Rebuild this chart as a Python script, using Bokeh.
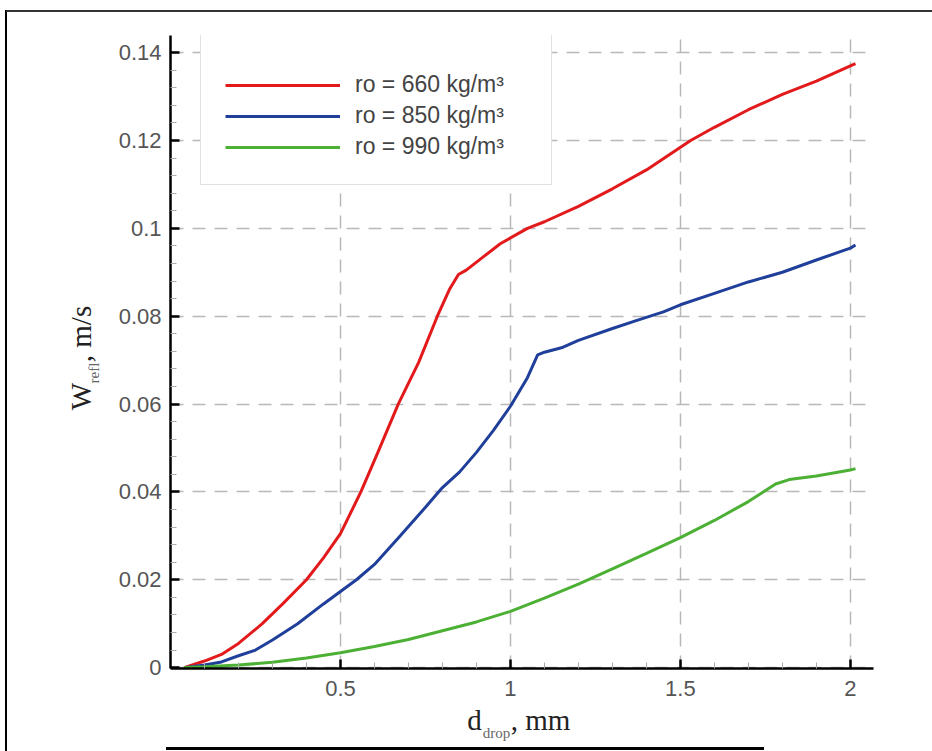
import math
from bokeh.plotting import figure
from bokeh.models import (FixedTicker, CustomJSTickFormatter, Legend, LegendItem,
                          LinearAxis, Range1d)
from bokeh.embed import file_html
from bokeh.resources import INLINE

# ---------------- data ----------------
d_660 = [0.04, 0.1, 0.15, 0.2, 0.27, 0.33, 0.40, 0.45, 0.5, 0.56, 0.61, 0.67, 0.73,
         0.785, 0.82, 0.847, 0.87, 0.92, 0.97, 1.05, 1.1, 1.2, 1.3, 1.4, 1.53, 1.6,
         1.7, 1.8, 1.9, 2.0, 2.015]
w_660 = [0.0, 0.0015, 0.003, 0.0055, 0.010, 0.0145, 0.020, 0.025, 0.0305, 0.040, 0.049,
         0.060, 0.0695, 0.080, 0.086, 0.0895, 0.0905, 0.0935, 0.0965, 0.100, 0.1015,
         0.105, 0.109, 0.1133, 0.120, 0.123, 0.127, 0.1305, 0.1335, 0.137, 0.1375]

d_850 = [0.04, 0.1, 0.15, 0.2, 0.25, 0.3, 0.374, 0.45, 0.547, 0.6, 0.676, 0.75, 0.8,
         0.85, 0.9, 0.95, 1.0, 1.05, 1.08, 1.1, 1.15, 1.2, 1.3, 1.37, 1.45, 1.5, 1.6,
         1.7, 1.8, 1.9, 2.0, 2.015]
w_850 = [0.0, 0.0006, 0.0013, 0.0027, 0.004, 0.0063, 0.010, 0.0145, 0.020, 0.0235,
         0.030, 0.0365, 0.041, 0.0445, 0.049, 0.054, 0.0595, 0.066, 0.0712, 0.0718,
         0.0728, 0.0745, 0.0772, 0.079, 0.081, 0.0826, 0.0852, 0.0878, 0.090, 0.0928,
         0.0955, 0.0962]

d_990 = [0.04, 0.1, 0.2, 0.3, 0.4, 0.5, 0.6, 0.7, 0.8, 0.9, 1.0, 1.1, 1.2, 1.3, 1.4,
         1.5, 1.6, 1.7, 1.78, 1.82, 1.9, 2.0, 2.015]
w_990 = [0.0, 0.0002, 0.0006, 0.0012, 0.0022, 0.0034, 0.0048, 0.0064, 0.0084, 0.0104,
         0.0128, 0.0158, 0.019, 0.0225, 0.026, 0.0296, 0.0335, 0.0378, 0.0418, 0.0428,
         0.0436, 0.045, 0.0453]

series_labels = ["ro = 660 kg/m\u00b3", "ro = 850 kg/m\u00b3", "ro = 990 kg/m\u00b3"]
series_colors = ["#e31a1c", "#1f3f9a", "#4cb035"]

x_major = [0.5, 1.0, 1.5, 2.0]
x_minor = [round(0.1 * i, 1) for i in range(1, 21) if i % 5 != 0]
y_major = [0.0, 0.02, 0.04, 0.06, 0.08, 0.10, 0.12, 0.14]
y_minor = [round(0.004 * i, 3) for i in range(1, 37) if i % 5 != 0]

x_title_main = ["d", ", mm"]
x_title_sub = ["drop"]
y_title_main = ["W", ", m/s"]
y_title_sub = ["refl"]

# ---------------- layout constants (canvas px) ----------------
W, H = 932, 751
L, R, T, B = 170, 873, 35, 668
X0, X1 = 0.0, 2.068
Y0, Y1 = -0.0002, 0.1439


def cx(px):
    return X0 + (px - L) * (X1 - X0) / (R - L)


def cy(py):
    return Y0 + (B - py) * (Y1 - Y0) / (B - T)


p = figure(width=W, height=H, output_backend="svg", toolbar_location=None,
           title=None, x_range=Range1d(X0, X1), y_range=Range1d(Y0, Y1),
           min_border_left=L, min_border_right=W - R, min_border_top=T,
           min_border_bottom=H - B)
p.outline_line_color = None
p.background_fill_color = "white"
p.border_fill_color = None
# page frame lines (left line positioned from the right edge of the page)
p.styles = {
    "background-color": "#ffffff",
    "background-image": ("linear-gradient(#333333,#333333), linear-gradient(#000000,#000000), "
                         "linear-gradient(#000000,#000000)"),
    "background-position": "6px 10px, right 925px top 10px, 166px 747px",
    "background-size": "926px 2px, 2px 741px, 598px 3px",
    "background-repeat": "no-repeat, no-repeat, no-repeat",
}

fmt = CustomJSTickFormatter(code="return Number(tick.toFixed(4)).toString();")

for ax, maj, mnr in ((p.xaxis[0], x_major, x_minor), (p.yaxis[0], y_major, y_minor)):
    ax.ticker = FixedTicker(ticks=maj, minor_ticks=mnr)
    ax.formatter = fmt
    ax.axis_line_color = "black"
    ax.axis_line_width = 2.5
    ax.major_tick_in = 9
    ax.major_tick_out = 0
    ax.major_tick_line_width = 2.5
    ax.major_tick_line_color = "black"
    ax.minor_tick_in = 6
    ax.minor_tick_out = 0
    ax.minor_tick_line_color = "#aaaaaa"
    ax.minor_tick_line_width = 1
    ax.major_label_text_font = "Liberation Sans"
    ax.major_label_text_font_size = "22px"
    ax.major_label_text_color = "#555555"
    ax.axis_label = None
p.yaxis[0].major_label_standoff = 9
p.xaxis[0].major_label_standoff = 12

p.xgrid[0].ticker = FixedTicker(ticks=x_major)
p.ygrid[0].ticker = FixedTicker(ticks=y_major)
for g in (p.xgrid[0], p.ygrid[0]):
    g.grid_line_color = "#b8b8b8"
    g.grid_line_width = 1.5
    g.grid_line_dash = "13 9"

renderers = []
for xs, ys, col in ((d_660, w_660, series_colors[0]), (d_850, w_850, series_colors[1]),
                    (d_990, w_990, series_colors[2])):
    renderers.append(p.line(xs, ys, line_color=col, line_width=3))

legend = Legend(items=[LegendItem(label=lab, renderers=[r])
                       for lab, r in zip(series_labels, renderers)],
                location=(30, 483), orientation="vertical")
legend.title = " "
legend.title_text_font_size = "13px"
legend.title_standoff = 0
legend.padding = 24
legend.spacing = 4
legend.glyph_width = 115
legend.glyph_height = 26
legend.label_height = 26
legend.label_standoff = 15
legend.label_width = 172
legend.label_text_font = "Liberation Sans"
legend.label_text_font_size = "23px"
legend.label_text_color = "#444444"
legend.border_line_color = "#c4c4c4"
legend.border_line_width = 1.5
legend.background_fill_color = "white"
legend.background_fill_alpha = 1.0
legend.margin = 0
p.add_layout(legend)

# ---------------- axis titles (as label-only axes) ----------------
serif = "Liberation Serif"


def title_axis(ticks, labels, size, color, standoff, orientation="horizontal"):
    return LinearAxis(
        ticker=FixedTicker(ticks=ticks, minor_ticks=[]),
        formatter=CustomJSTickFormatter(args=dict(labels=labels),
                                        code="return labels[index];"),
        axis_line_color=None, major_tick_line_color=None, minor_tick_line_color=None,
        major_tick_in=0, major_tick_out=0, minor_tick_in=0, minor_tick_out=0,
        major_label_standoff=standoff, major_label_text_font=serif,
        major_label_text_font_size=size, major_label_text_color=color,
        major_label_orientation=orientation, axis_label=None)


# x title: d_drop, mm
p.add_layout(title_axis([cx(474), cx(540)], x_title_main, "29px", "#222222", 5), "below")
p.add_layout(title_axis([cx(496)], x_title_sub, "15px", "#666666", -14), "below")
# y title: W_refl, m/s
p.add_layout(title_axis([cy(372.5)], y_title_sub, "15px", "#666666", 14, "vertical"), "left")
p.add_layout(title_axis([cy(396), cy(333.5)], y_title_main, "29px", "#222222", -14,
                        "vertical"), "left")

open("out.html", "w").write(file_html(p, INLINE))
